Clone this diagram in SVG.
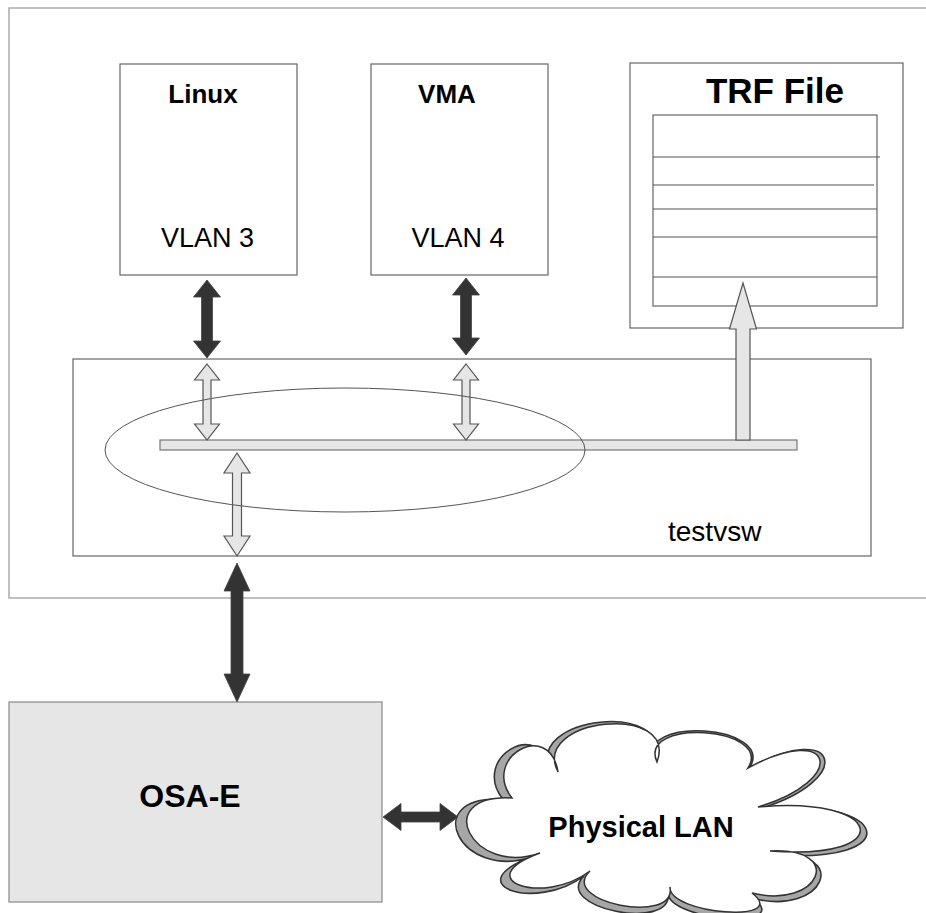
<svg xmlns="http://www.w3.org/2000/svg" width="926" height="913" viewBox="0 0 926 913">
<style>
  .box { fill: #ffffff; stroke: #666666; stroke-width: 1.2; }
  .frame { fill: none; stroke: #aaaaaa; stroke-width: 1.5; }
  .dark { fill: #333333; stroke: #444444; stroke-width: 0.8; }
  .light { fill: #e6e6e6; stroke: #555555; stroke-width: 1.2; stroke-linejoin: miter; }
  .line { stroke: #555555; stroke-width: 1.2; }
  .b { font-family: "Liberation Sans", Arial, sans-serif; font-weight: bold; fill: #000; }
  .r { font-family: "Liberation Sans", Arial, sans-serif; fill: #000; }
</style>
<rect width="926" height="913" fill="#ffffff"/>
<path class="frame" d="M926,8 H9 V598 H926"/>

<g id="linux">
  <rect class="box" x="120" y="64" width="177" height="211"/>
  <text class="b" x="203" y="103" font-size="26" text-anchor="middle">Linux</text>
  <text class="r" x="207.5" y="247" font-size="27" text-anchor="middle">VLAN 3</text>
</g>

<g id="vma">
  <rect class="box" x="371" y="64" width="177" height="211"/>
  <text class="b" x="447" y="103" font-size="26" text-anchor="middle">VMA</text>
  <text class="r" x="458" y="247" font-size="27" text-anchor="middle">VLAN 4</text>
</g>

<g id="trf">
  <rect class="box" x="630" y="63" width="273" height="265"/>
  <text class="b" x="775" y="103" font-size="35" text-anchor="middle">TRF File</text>
  <rect class="box" x="653" y="115" width="224" height="191"/>
  <line class="line" x1="653" y1="157" x2="880" y2="157"/>
  <line class="line" x1="653" y1="185" x2="874" y2="185"/>
  <line class="line" x1="653" y1="209" x2="877" y2="209"/>
  <line class="line" x1="653" y1="237" x2="877" y2="237"/>
  <line class="line" x1="653" y1="277" x2="877" y2="277"/>
</g>

<g id="testvsw">
  <rect class="box" x="73" y="359" width="798" height="197"/>
  <text class="r" x="668" y="541" font-size="28">testvsw</text>
</g>

<g id="osa-e">
  <rect x="9" y="702" width="373" height="200" fill="#e6e6e7" stroke="#888888" stroke-width="1.2"/>
  <text class="b" x="190" y="807" font-size="32" text-anchor="middle">OSA-E</text>
</g>

<g id="physical-lan">
  <path transform="translate(668,817) scale(1.045) translate(-668,-817) translate(-2,2)" fill="#a6a6a6" stroke="#333333" stroke-width="1.5" d="M512,798 C480.5,757.5 549.5,718.5 558,772 C530,717.5 679,702.5 657,762 C637,717.5 774,726.5 748,768 C834.5,721 849.5,780 758,807 C883,794.7 901,860.7 770,851 C846.5,847 819.5,910 752,893 C791.5,923.5 668.5,914.5 670,887 C677,926 557,902 590,871 C542.5,906.5 467.5,879.5 540,853 C472,877 430,794 512,798 Z"/>
  <path fill="#ffffff" stroke="#333333" stroke-width="1.5" d="M512,798 C480.5,757.5 549.5,718.5 558,772 C530,717.5 679,702.5 657,762 C637,717.5 774,726.5 748,768 C834.5,721 849.5,780 758,807 C883,794.7 901,860.7 770,851 C846.5,847 819.5,910 752,893 C791.5,923.5 668.5,914.5 670,887 C677,926 557,902 590,871 C542.5,906.5 467.5,879.5 540,853 C472,877 430,794 512,798 Z"/>
  <text class="b" x="641" y="837" font-size="29" text-anchor="middle">Physical LAN</text>
</g>

<g id="connectors">
  <rect id="vlan-bar" x="160" y="440" width="637" height="10" fill="#e6e6e6" stroke="#777777" stroke-width="1.2"/>
  <polygon class="dark" points="207,280 220.5,297 212.5,297 212.5,341 220.5,341 207,358 193.5,341 201.5,341 201.5,297 193.5,297"/>
  <polygon class="dark" points="466,278 479.5,295 471.5,295 471.5,338 479.5,338 466,355 452.5,338 460.5,338 460.5,295 452.5,295"/>
  <polygon class="light" points="207,364 219.5,380 211,380 211,424 219.5,424 207,440 194.5,424 203,424 203,380 194.5,380"/>
  <polygon class="light" points="466,364 478.5,380 470,380 470,424 478.5,424 466,440 453.5,424 462,424 462,380 453.5,380"/>
  <polygon class="light" points="237,453 250,473 241.5,473 241.5,536 250,536 237,556 224,536 232.5,536 232.5,473 224,473"/>
  <polygon class="dark" points="237,563 250,591 243,591 243,674 250,674 237,702 224,674 231,674 231,591 224,591"/>
  <polygon class="dark" points="383,817 401,803.5 401,812 440,812 440,803.5 458,817 440,830.5 440,822 401,822 401,830.5"/>
  <polygon class="light" points="743,283 756.5,329 750,329 750,440 736,440 736,329 729.5,329"/>
  <ellipse cx="345" cy="450" rx="240" ry="62" fill="none" stroke="#555555" stroke-width="1"/>
</g>
</svg>
